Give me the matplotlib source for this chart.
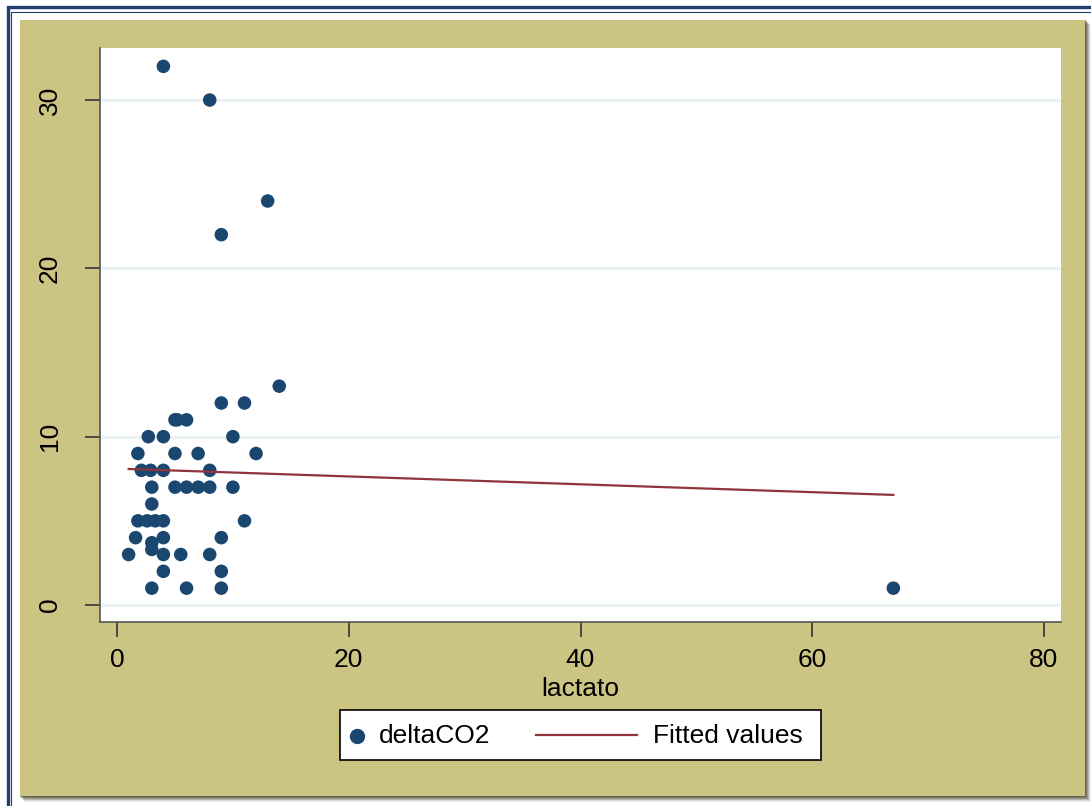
import matplotlib
matplotlib.use("Agg")
import matplotlib.pyplot as plt
from matplotlib.patches import Rectangle
from matplotlib.lines import Line2D
import numpy as np

plt.rcParams["font.family"] = ["Liberation Sans", "DejaVu Sans"]

# Data
lactato = [4, 8, 13, 9, 14,
           9, 11,
           5, 5.2, 6,
           2.7, 4, 10,
           1.8, 5, 7, 12,
           2.1, 2.9, 4, 8,
           3, 5, 6, 7, 8, 10,
           3,
           1.8, 2.6, 3.3, 4, 11,
           1.6, 4, 9, 3, 3,
           1, 4, 5.5, 8,
           4, 9,
           3, 6, 9, 67]
deltaCO2 = [32, 30, 24, 22, 13,
            12, 12,
            11, 11, 11,
            10, 10, 10,
            9, 9, 9, 9,
            8, 8, 8, 8,
            7, 7, 7, 7, 7, 7,
            6,
            5, 5, 5, 5, 5,
            4, 4, 4, 3.7, 3.3,
            3, 3, 3, 3,
            2, 2,
            1, 1, 1, 1]
fit_x = [1, 67]
fit_y = [8.08, 6.54]

xticks = [0, 20, 40, 60, 80]
yticks = [0, 10, 20, 30]
series_labels = ["deltaCO2", "Fitted values"]

W, H = 1091, 806
fig = plt.figure(figsize=(W / 100, H / 100), dpi=100)
fig.patch.set_facecolor("white")

def fx(px):
    return px / W

def fy(py):
    return 1 - py / H

def rect(x0, y0, x1, y1, **kw):
    # pixel box (top-left x0,y0 ; bottom-right x1,y1)
    r = Rectangle((fx(x0), fy(y1)), fx(x1) - fx(x0), fy(y0) - fy(y1),
                  transform=fig.transFigure, **kw)
    fig.patches.append(r)
    return r

khaki = "#CBC483"
navy_frame = "#1F3F6E"
marker_col = "#1A476F"
line_col = "#90353B"

# outer frame lines (right/bottom run off canvas)
rect(7.5, 7.5, 1100, 820, fill=False, edgecolor=navy_frame, linewidth=2.4, zorder=0)
rect(11.5, 11.5, 1100, 820, fill=False, edgecolor=navy_frame, linewidth=0.8, zorder=0)
# shadow of khaki panel
for i, a in enumerate(np.linspace(0.45, 0.08, 6)):
    rect(20 + i, 20 + i, 1086 + i, 797 + i, facecolor=(0.3, 0.3, 0.22, a),
         edgecolor="none", zorder=0.5)
# khaki background
rect(20, 20, 1085, 796, facecolor=khaki, edgecolor="none", zorder=1)

ax = fig.add_axes([fx(100), fy(622), fx(1061) - fx(100), fy(48) - fy(622)])
ax.set_facecolor("white")
ax.set_zorder(2)

ax.set_xlim(-1.47, 81.47)
ax.set_ylim(-1.01, 33.09)

for yv in yticks:
    ax.axhline(yv, color="#EAF2F3", linewidth=2.2, zorder=1)

ax.scatter(lactato, deltaCO2, s=95, color=marker_col, edgecolors="none", zorder=3)
ax.plot(fit_x, fit_y, color=line_col, linewidth=1.6, zorder=4)

ax.spines["top"].set_visible(False)
ax.spines["right"].set_visible(False)
for sp in ("left", "bottom"):
    ax.spines[sp].set_color("#555555")
    ax.spines[sp].set_linewidth(1.2)

ax.set_xticks(xticks)
ax.set_yticks(yticks)
ax.tick_params(axis="both", direction="out", length=11, width=1.2, color="#333333",
               labelsize=19, labelcolor="black")
ax.tick_params(axis="x", pad=8)
ax.tick_params(axis="y", pad=25)
for lab in ax.get_yticklabels():
    lab.set_rotation(90)
    lab.set_va("center")
    lab.set_ha("center")
ax.set_xlabel("lactato", fontsize=19, labelpad=3)

# legend box drawn manually in figure pixels
rect(340, 710, 821, 760, facecolor="white", edgecolor="black", linewidth=1.2, zorder=5)
fig.add_artist(Line2D([fx(357)], [fy(736)], marker="o", markersize=10, color=marker_col,
                      linestyle="none", transform=fig.transFigure, zorder=6))
fig.text(fx(379), fy(736), series_labels[0], fontsize=19, va="center", ha="left", zorder=6)
fig.add_artist(Line2D([fx(536), fx(637)], [fy(735), fy(735)], color=line_col, linewidth=1.6,
                      transform=fig.transFigure, zorder=6))
fig.text(fx(653), fy(736), series_labels[1], fontsize=19, va="center", ha="left", zorder=6)

fig.savefig("out.png", dpi=100, facecolor=fig.get_facecolor())
